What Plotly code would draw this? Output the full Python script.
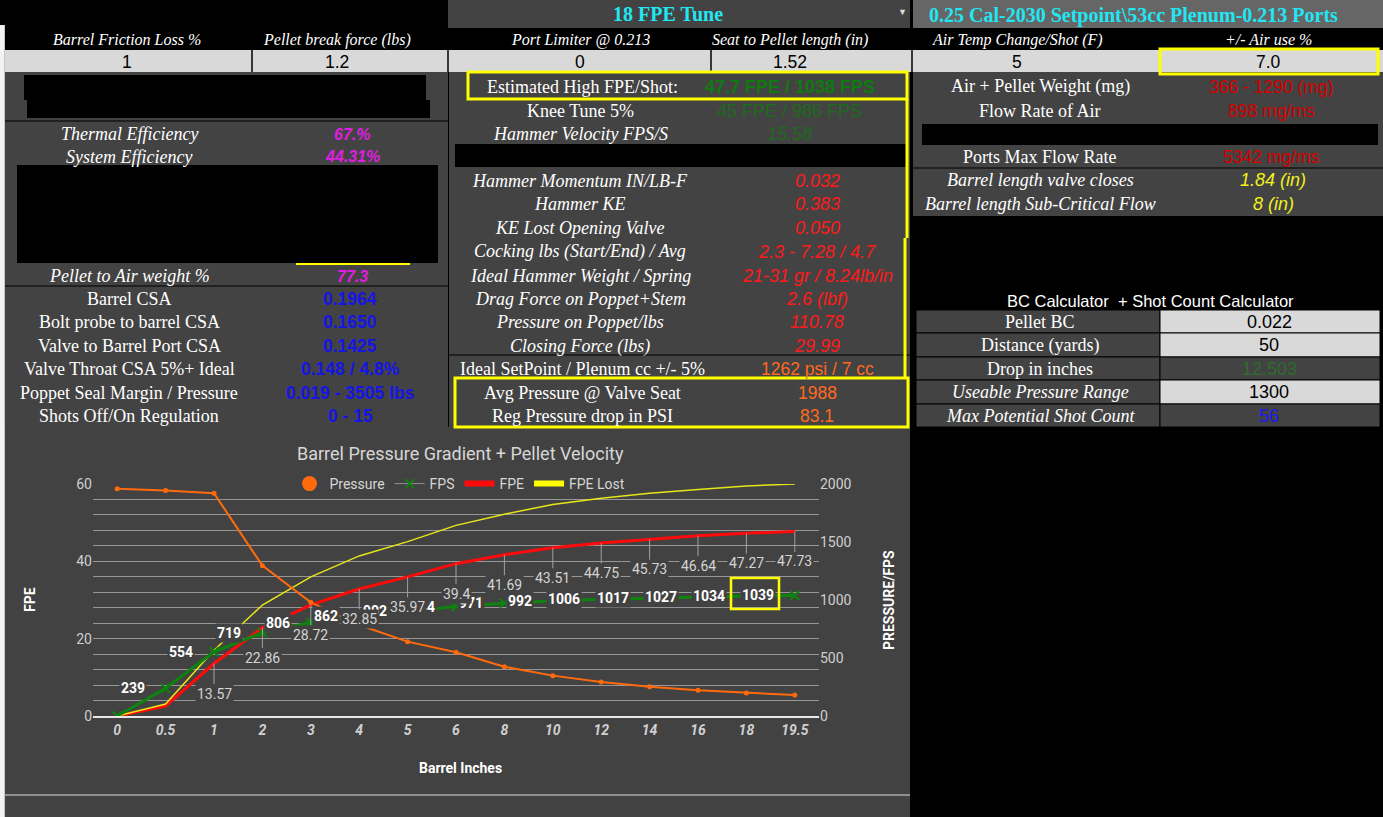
import plotly.graph_objects as go

# ---- chart data ----
barrel_inches = ["0", "0.5", "1", "2", "3", "4", "5", "6", "8", "10", "12", "14", "16", "18", "19.5"]
pressure = [1960, 1945, 1920, 1296, 980, 784, 641, 549, 425, 348, 293, 253, 221, 198, 181]
fps = [0, 239, 554, 719, 806, 862, 902, 944, 971, 992, 1006, 1017, 1027, 1034, 1039]
fpe = [0, 2.59, 13.57, 22.86, 28.72, 32.85, 35.97, 39.4, 41.69, 43.51, 44.75, 45.73, 46.64, 47.27, 47.73]
fpe_lost = [0, 3.1, 17.0, 28.7, 36.0, 41.4, 45.1, 49.3, 52.2, 54.7, 56.3, 57.6, 58.6, 59.5, 60.0]
fpe_ticks = [0, 20, 40, 60]
pressure_ticks = [0, 500, 1000, 1500, 2000]

# ---- sheet text ----
tune_name = "18 FPE Tune"
setup_name = "0.25 Cal-2030 Setpoint\\53cc Plenum-0.213 Ports"
input_headers = ["Barrel Friction Loss %", "Pellet break force (lbs)", "Port Limiter @ 0.213",
                 "Seat to Pellet length (in)", "Air Temp Change/Shot (F)", "+/- Air use %"]
input_values = ["1", "1.2", "0", "1.52", "5", "7.0"]

eff_labels = ["Thermal Efficiency", "System Efficiency", "Pellet to Air weight %"]
eff_values = ["67.%", "44.31%", "77.3"]
csa_labels = ["Barrel CSA", "Bolt probe to barrel CSA", "Valve to Barrel Port CSA",
              "Valve Throat CSA 5%+ Ideal", "Poppet Seal Margin / Pressure", "Shots Off/On Regulation"]
csa_values = ["0.1964", "0.1650", "0.1425", "0.148 / 4.8%", "0.019 - 3505 lbs", "0 - 15"]

tune_labels = ["Estimated High FPE/Shot:", "Knee Tune 5%", "Hammer Velocity FPS/S"]
tune_values = ["47.7 FPE / 1038 FPS", "45 FPE / 986 FPS", "15.58"]
hammer_labels = ["Hammer Momentum IN/LB-F", "Hammer KE", "KE Lost Opening Valve",
                 "Cocking lbs (Start/End) / Avg", "Ideal Hammer Weight / Spring",
                 "Drag Force on Poppet+Stem", "Pressure on Poppet/lbs", "Closing Force (lbs)"]
hammer_values = ["0.032", "0.383", "0.050", "2.3 - 7.28 / 4.7", "21-31 gr / 8.24lb/in",
                 "2.6 (lbf)", "110.78", "29.99"]
setpoint_labels = ["Ideal SetPoint / Plenum cc +/- 5%", "Avg Pressure @ Valve Seat", "Reg Pressure drop in PSI"]
setpoint_values = ["1262 psi / 7 cc", "1988", "83.1"]

flow_labels = ["Air + Pellet Weight (mg)", "Flow Rate of Air", "Ports Max Flow Rate"]
flow_values = ["366 - 1290 (mg)", "898 mg/ms", "5342 mg/ms"]
close_labels = ["Barrel length valve closes", "Barrel length Sub-Critical Flow"]
close_values = ["1.84 (in)", "8 (in)"]
bc_title = "BC Calculator  + Shot Count Calculator"
bc_labels = ["Pellet BC", "Distance (yards)", "Drop in inches", "Useable Pressure Range", "Max Potential Shot Count"]
bc_values = ["0.022", "50", "12.503", "1300", "56"]

W, H = 1383, 817
SERIF = "Liberation Serif"
SANS = "Liberation Sans"
CHART_FONT = "Roboto"
DARK = "#434343"
CHART_BG = "#424242"
LIGHT = "#d9d9d9"
YELLOW = "#ffff00"
CYAN = "#22e6f2"
GRID = "#979797"

shapes = []
notes = []


def rect(x0, y0, x1, y1, fill, edge=None, lw=0, layer="below"):
    shapes.append(dict(type="rect", xref="paper", yref="paper", x0=x0 / W, x1=x1 / W,
                       y0=1 - y1 / H, y1=1 - y0 / H, fillcolor=fill, layer=layer,
                       line=dict(width=lw, color=edge or fill)))


def outline(x0, y0, x1, y1, color=YELLOW, lw=3):
    shapes.append(dict(type="rect", xref="paper", yref="paper", x0=x0 / W, x1=x1 / W,
                       y0=1 - y1 / H, y1=1 - y0 / H, layer="above",
                       line=dict(width=lw, color=color)))


def line(x0, y0, x1, y1, color, lw=1):
    shapes.append(dict(type="line", xref="paper", yref="paper", x0=x0 / W, x1=x1 / W,
                       y0=1 - y0 / H, y1=1 - y1 / H, layer="above",
                       line=dict(width=lw, color=color)))


def text(x, y, s, size=18, color="#ffffff", family=SERIF, italic=False, bold=False, angle=0):
    notes.append(dict(xref="paper", yref="paper", x=x / W, y=1 - y / H, text=s, showarrow=False,
                      xanchor="center", yanchor="middle", textangle=angle,
                      font=dict(family=family, size=size, color=color,
                                style="italic" if italic else "normal",
                                weight="bold" if bold else "normal")))


# ---- sheet background blocks ----
rect(0, 0, W, H, "#000000")
rect(0, 25, 5, H, "#f3f3f3")
line(4.5, 25, 4.5, H, "#c6c6c6")
rect(448, 0, 910, 28, DARK)
rect(913, 0, W, 28, "#666666")
rect(5, 50, W, 72, LIGHT)
for xs in [252, 448, 711, 912, 1160]:
    line(xs, 50, xs, 72, "#000000", 1.5)
rect(5, 72, 448, 427, DARK)
rect(449, 72, 910, 427, DARK)
rect(913, 72, W, 216, DARK)
line(5, 121, 448, 121, "#000000")
line(5, 286, 448, 286, "#000000")
line(449, 355, 910, 355, "#000000")
line(913, 168, W, 168, "#000000")

# redacted blocks
rect(24, 75, 426, 100, "#000000", layer="above")
rect(27, 100, 430, 118, "#000000", layer="above")
rect(17, 165, 438, 263, "#000000", layer="above")
rect(455, 144, 907, 167, "#000000", layer="above")
rect(922, 124, 1378, 145, "#000000", layer="above")
rect(916, 216, 1380, 308, "#000000", layer="above")

# BC calculator table cells
bc_rows = [310, 333, 357, 380, 404, 427]
bc_fill = [LIGHT, LIGHT, DARK, LIGHT, DARK]
for i in range(5):
    rect(916, bc_rows[i], 1160, bc_rows[i + 1], DARK, "#000000", 1)
    rect(1160, bc_rows[i], 1380, bc_rows[i + 1], bc_fill[i], "#000000", 1)

# chart panel
rect(5, 427, 910, 795, CHART_BG)
rect(5, 795, 910, 817, DARK)
line(5, 795, 910, 795, "#a8a8a8", 1.5)

# yellow highlights
outline(1160, 49, 1378, 74)
outline(468, 72, 907, 99)
line(907, 99, 907, 238, YELLOW, 3)
line(905, 238, 905, 378, YELLOW, 3)
outline(455, 378, 908, 427)
line(296, 264, 410, 264, YELLOW, 2)
outline(731, 578, 779, 609, YELLOW, 2.5)

# ---- sheet text ----
text(668, 14, tune_name, 20, CYAN, bold=True)
text(903, 12, "▼", 9, "#dddddd", SANS)
text(1133, 16, setup_name, 20, CYAN, bold=True)

for cx, h, v in zip([127, 337, 580, 790, 1017, 1268], input_headers, input_values):
    text(cx, 40, h, 16, italic=True)
    text(cx, 62, v, 17.5, "#000000", SANS)

for y, lab, val in zip([134, 157, 276], eff_labels, eff_values):
    text(129, y, lab, italic=True)
    text(352, y, val, 16, "#e01ee0", SANS, italic=True, bold=True)
for y, lab, val in zip([299, 322, 346, 369, 393, 416], csa_labels, csa_values):
    text(129, y, lab)
    text(350, y, val, 17.5, "#1515e6", SANS, bold=True)

text(582, 87, tune_labels[0])
text(790, 87, tune_values[0], 18, "#0f7a0f", SANS, bold=True)
text(580, 111, tune_labels[1])
text(789, 111, tune_values[1], 18, "#1e6a1e", SANS)
text(580, 134, tune_labels[2], italic=True)
text(789, 134, tune_values[2], 18, "#1e6a1e", SANS, italic=True)
for y, lab, val in zip([181, 204, 228, 252, 276, 299, 322, 346], hammer_labels, hammer_values):
    text(580, y, lab, italic=True)
    text(817, y, val, 18, "#ff1a1a", SANS, italic=True)
for y, lab, val in zip([369, 393, 416], setpoint_labels, setpoint_values):
    text(582, y, lab)
    text(817, y, val, 17.5, "#ff6a1f", SANS)

for y, lab, val in zip([87, 111, 157], flow_labels, flow_values):
    text(1040, y, lab)
    text(1271, y, val, 17.5, "#d40000", SANS)
for y, lab, val in zip([180, 204], close_labels, close_values):
    text(1040, y, lab, italic=True)
    text(1273, y, val, 18, "#f2f21c", SANS, italic=True)
text(1150, 301, bc_title, 16.5, "#ffffff", SANS)
bc_colors = ["#000000", "#000000", "#2f6b2f", "#000000", "#1a1aee"]
for i, (lab, val) in enumerate(zip(bc_labels, bc_values)):
    y = (bc_rows[i] + bc_rows[i + 1]) / 2
    text(1040, y, lab, italic=i >= 3)
    text(1269, y, val, 18, bc_colors[i], SANS)

# ---- chart texts ----
text(460, 453, "Barrel Pressure Gradient + Pellet Velocity", 18, "#d6d6d6", CHART_FONT)
text(460, 768, "Barrel Inches", 14, "#ffffff", CHART_FONT, bold=True)
text(30, 600, "FPE", 14, "#ffffff", CHART_FONT, bold=True, angle=-90)
text(889, 600, "PRESSURE/FPS", 14, "#ffffff", CHART_FONT, bold=True, angle=-90)

ORANGE = "#ff6a0d"
GREEN = "#0d840d"
RED = "#ff0a0a"
YEL_LINE = "#e6e619"

fig = go.Figure()
fig.add_trace(go.Scatter(x=barrel_inches, y=pressure, yaxis="y2", mode="lines+markers",
                         line=dict(color=ORANGE, width=2), marker=dict(size=5, color=ORANGE),
                         showlegend=False))
fig.add_trace(go.Scatter(x=barrel_inches, y=fps, yaxis="y2", mode="lines+markers",
                         line=dict(color=GREEN, width=3),
                         marker=dict(symbol="x-thin", size=9, line=dict(width=2, color=GREEN)),
                         showlegend=False))
fig.add_trace(go.Scatter(x=barrel_inches, y=fpe, mode="lines", line=dict(color=RED, width=3),
                         showlegend=False))
fig.add_trace(go.Scatter(x=barrel_inches, y=fpe_lost, mode="lines", line=dict(color=YEL_LINE, width=1.5),
                         showlegend=False))

# legend entries
fig.add_trace(go.Scatter(x=[None], y=[None], name="Pressure", mode="markers",
                         marker=dict(size=15, color=ORANGE)))
fig.add_trace(go.Scatter(x=[None], y=[None], name="FPS", mode="lines+markers",
                         line=dict(color="#8f8f8f", width=1),
                         marker=dict(symbol="x-thin", size=9, line=dict(width=2, color=GREEN))))
fig.add_trace(go.Scatter(x=[None], y=[None], name="FPE", mode="lines", line=dict(color=RED, width=6)))
fig.add_trace(go.Scatter(x=[None], y=[None], name="FPE Lost", mode="lines", line=dict(color=YELLOW, width=6)))

# data labels: FPS sits left of its point, FPE hangs below on a leader line
# (annotation x on a category axis is the category's index)
for i, v in enumerate(fps):
    if i == 0:
        continue
    notes.append(dict(x=i, y=v, xref="x", yref="y2", text=str(v), showarrow=False,
                      xanchor="right", yanchor="middle", xshift=-19, bgcolor=CHART_BG, borderpad=1,
                      font=dict(family=CHART_FONT, size=14, color="#ffffff", weight="bold")))
for i, v in enumerate(fpe):
    if i < 2:
        continue
    notes.append(dict(x=i, y=v, xref="x", yref="y", text=f"{v:g}", showarrow=True,
                      arrowhead=0, arrowwidth=1, arrowcolor="#a0a0a0", ax=0, ay=30,
                      bgcolor=CHART_BG, borderpad=1,
                      font=dict(family=CHART_FONT, size=14, color="#d4d4d4")))

tick_font = dict(family=CHART_FONT, size=14, color="#cfcfcf")
fig.update_layout(
    width=W, height=H, margin=dict(l=0, r=0, t=0, b=0, autoexpand=False),
    paper_bgcolor="#000000", plot_bgcolor="rgba(0,0,0,0)",
    xaxis=dict(domain=[93 / W, 819 / W], type="category", categoryorder="array",
               categoryarray=barrel_inches, range=[-0.5, len(barrel_inches) - 0.5],
               showgrid=False, zeroline=False, automargin=False,
               showline=True, linecolor="#e8e8e8", linewidth=2, ticks="",
               tickfont=dict(family=CHART_FONT, size=14, color="#d0d0d0", weight="bold", style="italic")),
    yaxis=dict(domain=[1 - 716 / H, 1 - 484 / H], range=[0, 60], tickvals=fpe_ticks,
               gridcolor=GRID, gridwidth=1, zeroline=False, ticks="", tickfont=tick_font,
               automargin=False,
               minor=dict(dtick=4, showgrid=True, gridcolor=GRID, gridwidth=1)),
    yaxis2=dict(overlaying="y", side="right", anchor="x", range=[0, 2000], tickvals=pressure_ticks,
                showgrid=False, zeroline=False, ticks="", tickfont=tick_font, automargin=False),
    legend=dict(orientation="h", x=460 / W, xanchor="center", y=1 - 484 / H, yanchor="middle",
                bgcolor="rgba(0,0,0,0)", font=dict(family=CHART_FONT, size=14, color="#d6d6d6"),
                itemwidth=30, tracegroupgap=0),
    shapes=shapes, annotations=notes,
    showlegend=True,
)

fig.write_html("out.html", config={"displayModeBar": False},
               post_script="document.body.style.margin='0';document.body.style.overflow='hidden';")
